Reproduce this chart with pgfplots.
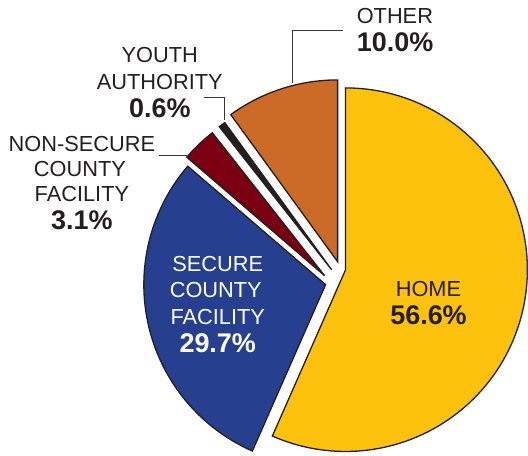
\documentclass[border=0pt]{standalone}
\usepackage{pgfplots}
\pgfplotsset{compat=1.18}
\usepackage{fontspec}
\setmainfont{Liberation Sans}
\definecolor{cHome}{RGB}{253,194,14}
\definecolor{cSecure}{RGB}{38,64,143}
\definecolor{cNonSec}{RGB}{122,0,17}
\definecolor{cYouth}{RGB}{35,31,32}
\definecolor{cOther}{RGB}{204,106,40}
\definecolor{cText}{RGB}{35,31,32}
\newcommand{\rg}{\fontsize{21.8}{26}\selectfont}
\newcommand{\bd}{\fontsize{27}{31}\selectfont\bfseries}
\begin{document}
\begin{tikzpicture}
\begin{axis}[
  width=528pt, height=456pt, scale only axis,
  xmin=0, xmax=528, ymin=0, ymax=456, y dir=reverse,
  hide axis, clip=false,
  every axis plot/.append style={line width=1.3pt, draw=cText, line join=miter},
  text=cText,
]
\addplot[draw=none] coordinates {(0,0) (528,456)};
% values: HOME 56.6, SECURE 29.7, NON-SECURE 3.1, YOUTH 0.6, OTHER 10.0 (percent, 3.6 deg each)
\addplot[fill=cHome, domain={90-3.6*56.6}:90, samples=120, variable=\t]
  ({346+182*cos(\t)}, {270-182*sin(\t)}) -- (346,270) -- cycle;
\addplot[fill=cSecure, domain={90-3.6*(56.6+29.7)}:{90-3.6*56.6}, samples=70, variable=\t]
  ({326+182*cos(\t)}, {285-182*sin(\t)}) -- (326,285) -- cycle;
\addplot[fill=cNonSec, domain={450-3.6*(56.6+29.7+3.1)}:{450-3.6*(56.6+29.7)}, samples=12, variable=\t]
  ({325+182*cos(\t)}, {276-182*sin(\t)}) -- (325,276) -- cycle;
\addplot[fill=cYouth, domain={450-3.6*(56.6+29.7+3.1+0.6)}:{450-3.6*(56.6+29.7+3.1)}, samples=4, variable=\t]
  ({332+182*cos(\t)}, {270-182*sin(\t)}) -- (332,270) -- cycle;
\addplot[fill=cOther, domain=90:{90+3.6*10.0}, samples=30, variable=\t]
  ({338+182*cos(\t)}, {262-182*sin(\t)}) -- (338,262) -- cycle;
% leader lines
\addplot[line width=0.9pt, draw=cText!90] coordinates {(293,83) (293,30) (343,30)};
\addplot[line width=0.9pt, draw=cText!90] coordinates {(204,98) (225,98) (225,120)};
\addplot[line width=0.9pt, draw=cText!90] coordinates {(159,156) (187,156)};
% labels
\node[anchor=base west, text=cText, inner sep=0pt] at (axis cs:357,24) {\rg OTHER};
\node[anchor=base west, text=cText, inner sep=0pt] at (axis cs:357,52) {\bd 10.0\%};
\node[anchor=base, text=cText, inner sep=0pt] at (axis cs:160,63) {\rg YOUTH};
\node[anchor=base, text=cText, inner sep=0pt] at (axis cs:160,90) {\rg AUTHORITY};
\node[anchor=base, text=cText, inner sep=0pt] at (axis cs:160,118) {\bd 0.6\%};
\node[anchor=base, text=cText, inner sep=0pt] at (axis cs:82,152) {\rg NON-SECURE};
\node[anchor=base, text=cText, inner sep=0pt] at (axis cs:80,177) {\rg COUNTY};
\node[anchor=base, text=cText, inner sep=0pt] at (axis cs:82,202) {\rg FACILITY};
\node[anchor=base, text=cText, inner sep=0pt] at (axis cs:82,230) {\bd 3.1\%};
\node[anchor=base, text=white, inner sep=0pt] at (axis cs:218,272) {\rg SECURE};
\node[anchor=base, text=white, inner sep=0pt] at (axis cs:216,298) {\rg COUNTY};
\node[anchor=base, text=white, inner sep=0pt] at (axis cs:218,325) {\rg FACILITY};
\node[anchor=base, text=white, inner sep=0pt] at (axis cs:218,353) {\bd 29.7\%};
\node[anchor=base, text=cText, inner sep=0pt] at (axis cs:429,297) {\rg HOME};
\node[anchor=base, text=cText, inner sep=0pt] at (axis cs:429,325) {\bd 56.6\%};
\end{axis}
\end{tikzpicture}
\end{document}
